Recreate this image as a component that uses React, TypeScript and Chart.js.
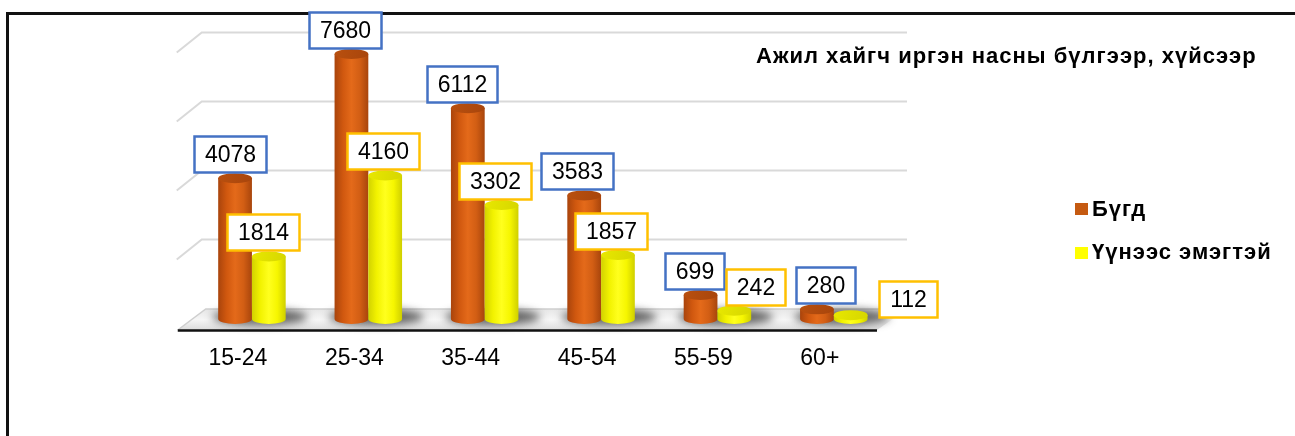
import React, { useEffect, useRef } from "react";
import { Chart, registerables } from "chart.js";

Chart.register(...registerables);

const categories = ["15-24", "25-34", "35-44", "45-54", "55-59", "60+"];
const totalValues = [4078, 7680, 6112, 3583, 699, 280];
const femaleValues = [1814, 4160, 3302, 1857, 242, 112];
const seriesNames = ["Бүгд", "Үүнээс эмэгтэй"];
const titleText = "Ажил хайгч иргэн насны бүлгээр, хүйсээр";

const FONT = '"Liberation Sans", Arial, Helvetica, sans-serif';
const legendColors = ["#C55A11", "#FFFF00"];
const labelBorders = ["#4472C4", "#FFC000"];
const bodyStops = [
  ["#A9440C", "#D0580F", "#E46A1A", "#D25E14", "#A8450C"],
  ["#D2D200", "#F2F200", "#FFFF1E", "#F6F600", "#CFCF00"],
];
const topColors = [
  ["#B9500F", "#A8450C"],
  ["#E8E800", "#D6D600"],
];
// label nudges (pixels) so the boxes sit as in the reference
const labelDx = [
  [-5, -6, -6, -7, -6, 9],
  [-6, -2, -7, -7, 21, 57],
];
const labelDy = [
  [0, 0, 0, 0, 0, 0],
  [0, 0, 0, 0, 0, 8],
];

const RY = 5;

const deco = {
  id: "deco3d",
  beforeDraw(chart: any) {
    const ctx = chart.ctx;
    ctx.save();
    ctx.fillStyle = "#ffffff";
    ctx.fillRect(0, 0, chart.width, chart.height);
    ctx.strokeStyle = "#111111";
    ctx.lineWidth = 3;
    ctx.beginPath();
    ctx.moveTo(6, 13.5);
    ctx.lineTo(chart.width, 13.5);
    ctx.moveTo(7.5, 12);
    ctx.lineTo(7.5, chart.height);
    ctx.stroke();
    ctx.restore();
  },
  beforeDatasetsDraw(chart: any) {
    const ctx = chart.ctx;
    const { left, right } = chart.chartArea;
    const ys = chart.scales.y;
    ctx.save();
    // back wall gridlines
    ctx.strokeStyle = "#d9d9d9";
    ctx.lineWidth = 2;
    ys.ticks.forEach((t: any) => {
      if (t.value === 0) return;
      const yb = ys.getPixelForValue(t.value) - 10.5;
      ctx.beginPath();
      ctx.moveTo(left - 17, yb + 20);
      ctx.lineTo(left + 8, yb);
      ctx.lineTo(right + 15, yb);
      ctx.stroke();
    });
    // floor
    const y0 = ys.getPixelForValue(0);
    const back = y0 - 10;
    const front = y0 + 11;
    const g = ctx.createLinearGradient(0, back, 0, front);
    g.addColorStop(0, "#e6e6e6");
    g.addColorStop(0.5, "#f6f6f6");
    g.addColorStop(1, "#dcdcdc");
    ctx.fillStyle = g;
    ctx.beginPath();
    ctx.moveTo(left - 16, front);
    ctx.lineTo(right - 15, front);
    ctx.lineTo(right + 15, back);
    ctx.lineTo(left + 12, back);
    ctx.closePath();
    ctx.fill();
    ctx.strokeStyle = "#cfcfcf";
    ctx.lineWidth = 1.5;
    ctx.beginPath();
    ctx.moveTo(left - 16, front);
    ctx.lineTo(left + 12, back);
    ctx.lineTo(right + 15, back);
    ctx.stroke();
    // shadows
    const m0 = chart.getDatasetMeta(0).data;
    const m1 = chart.getDatasetMeta(1).data;
    ctx.filter = "blur(4px)";
    ctx.fillStyle = "rgba(40,40,40,0.7)";
    m0.forEach((el: any, i: number) => {
      const e2 = m1[i];
      const cx = (el.x + e2.x) / 2 + 8;
      const rx = (e2.x - el.x) / 2 + el.width / 2 + 14;
      ctx.beginPath();
      ctx.ellipse(cx, y0 - 2, rx, 8, 0, 0, Math.PI * 2);
      ctx.fill();
    });
    ctx.filter = "none";
    // front edge
    ctx.strokeStyle = "#111111";
    ctx.lineWidth = 2.5;
    ctx.beginPath();
    ctx.moveTo(left - 16, front + 0.5);
    ctx.lineTo(right - 15, front + 0.5);
    ctx.stroke();
    ctx.restore();
  },
  afterDatasetsDraw(chart: any) {
    const ctx = chart.ctx;
    ctx.save();
    [0, 1].forEach((d) => {
      chart.getDatasetMeta(d).data.forEach((el: any) => {
        const w = el.width;
        const l = el.x - w / 2;
        const rx = w / 2;
        const g = ctx.createLinearGradient(l, 0, l + w, 0);
        bodyStops[d].forEach((c, k) => g.addColorStop(k / (bodyStops[d].length - 1), c));
        ctx.fillStyle = g;
        ctx.beginPath();
        ctx.moveTo(l, el.y);
        ctx.lineTo(l, el.base);
        ctx.ellipse(el.x, el.base, rx, RY, 0, Math.PI, 0, true);
        ctx.lineTo(l + w, el.y);
        ctx.closePath();
        ctx.fill();
        const tg = ctx.createLinearGradient(l, el.y - RY, l + w, el.y + RY);
        tg.addColorStop(0, topColors[d][0]);
        tg.addColorStop(1, topColors[d][1]);
        ctx.fillStyle = tg;
        ctx.beginPath();
        ctx.ellipse(el.x, el.y, rx, RY, 0, 0, Math.PI * 2);
        ctx.fill();
      });
    });
    // value labels
    ctx.font = `23px ${FONT}`;
    ctx.textAlign = "center";
    ctx.textBaseline = "middle";
    [0, 1].forEach((d) => {
      const vals = chart.data.datasets[d].data;
      chart.getDatasetMeta(d).data.forEach((el: any, i: number) => {
        const txt = String(vals[i]);
        const tw = ctx.measureText(txt).width;
        const bw = Math.round(tw + 21);
        const bh = 36;
        const cx = el.x + labelDx[d][i];
        const bottom = el.y - RY - 1 + labelDy[d][i];
        const x0 = Math.round(cx - bw / 2) + 0.5;
        const y0 = Math.round(bottom - bh) + 0.5;
        ctx.fillStyle = "#ffffff";
        ctx.fillRect(x0, y0, bw, bh);
        ctx.strokeStyle = labelBorders[d];
        ctx.lineWidth = 2.5;
        ctx.strokeRect(x0, y0, bw, bh);
        ctx.fillStyle = "#000000";
        ctx.fillText(txt, x0 + bw / 2, y0 + bh / 2 + 1);
      });
    });
    // title
    ctx.textAlign = "left";
    ctx.textBaseline = "alphabetic";
    ctx.font = `bold 22px ${FONT}`;
    (ctx as any).letterSpacing = "1px";
    ctx.fillStyle = "#000000";
    ctx.fillText(titleText, 756, 63);
    // legend
    const ly = [216, 259];
    const sq = [203, 247];
    seriesNames.forEach((n, k) => {
      ctx.fillStyle = legendColors[k];
      ctx.fillRect(1075, sq[k], 13, 12);
      ctx.fillStyle = "#000000";
      ctx.fillText(n, 1092, ly[k]);
    });
    (ctx as any).letterSpacing = "0px";
    ctx.restore();
  },
};

export default function App() {
  const ref = useRef<HTMLCanvasElement | null>(null);
  useEffect(() => {
    if (!ref.current) return;
    const chart = new Chart(ref.current, {
      type: "bar",
      data: {
        labels: categories,
        datasets: [
          { label: seriesNames[0], data: totalValues, backgroundColor: "rgba(0,0,0,0)", borderWidth: 0 },
          { label: seriesNames[1], data: femaleValues, backgroundColor: "rgba(0,0,0,0)", borderWidth: 0 },
        ],
      },
      options: {
        responsive: false,
        animation: false,
        events: [],
        layout: { padding: { left: 193.75, right: 403, top: 43, bottom: 0 } },
        datasets: { bar: { categoryPercentage: 0.58, barPercentage: 1 } },
        plugins: { legend: { display: false }, title: { display: false }, tooltip: { enabled: false } },
        scales: {
          x: {
            grid: { display: false, drawTicks: false },
            border: { display: false },
            ticks: {
              color: "#000000",
              font: { family: FONT, size: 23 },
              padding: 26,
              labelOffset: -14,
              maxRotation: 0,
              autoSkip: false,
            },
            afterFit: (s: any) => {
              s.height = 117;
            },
          },
          y: {
            display: false,
            min: 0,
            max: 8000,
            ticks: { stepSize: 2000 },
          },
        },
      },
      plugins: [deco],
    });
    return () => chart.destroy();
  }, []);
  return (
    <div style={{ position: "absolute", left: 0, top: 0, width: 1295, height: 436 }}>
      <canvas ref={ref} width={1295} height={436} style={{ display: "block", width: 1295, height: 436 }} />
    </div>
  );
}
